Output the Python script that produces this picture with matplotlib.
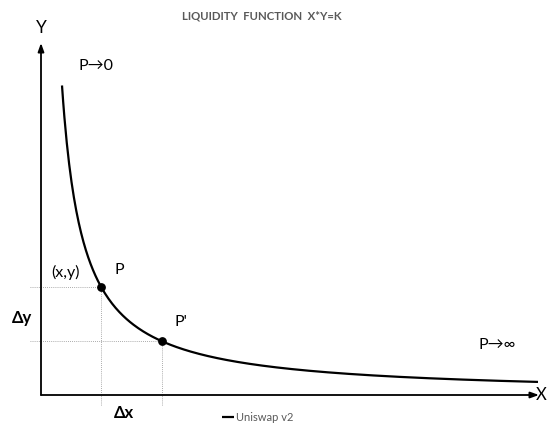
import matplotlib.pyplot as plt
import numpy as np

plt.rcParams['font.family'] = ['Lato', 'DejaVu Sans']

# liquidity curve x*y=k, drawn in axis units
k = 2.6
x_start, x_end = 0.42, 9.94
# the two marked points (x coordinates)
point_x = [1.2, 2.42]
point_names = ['P', "P'"]

x_axis_len = 9.96
y_axis_len = 7.04

fig = plt.figure(figsize=(5.48, 4.25), dpi=100)
ax = fig.add_axes([0, 0, 1, 1])
ax.set_xlim(-0.82, 10.14)
ax.set_ylim(-0.6, 7.9)
ax.axis('off')

# axes with arrows
arr = dict(arrowstyle='-|>,head_length=0.5,head_width=0.18', color='black', lw=1.3,
           shrinkA=0, shrinkB=0)
ax.annotate('', xy=(x_axis_len, 0), xytext=(0, 0), arrowprops=arr)
ax.annotate('', xy=(0, y_axis_len), xytext=(0, 0), arrowprops=arr)

xs = np.linspace(x_start, x_end, 400)
ax.plot(xs, k / xs, color='black', lw=1.6, label='Uniswap v2', solid_capstyle='butt')

py = [k / px for px in point_x]
for px, yv in zip(point_x, py):
    ax.plot([-0.22, px], [yv, yv], color='#909090', lw=0.6, ls=(0, (1, 1.5)))
    ax.plot([px, px], [-0.2, yv], color='#909090', lw=0.6, ls=(0, (1, 1.5)))
ax.scatter(point_x, py, s=28, color='black', zorder=5)

ax.text(1.46, 2.5, point_names[0], fontsize=11.5, ha='left', va='center')
ax.text(2.66, 1.45, point_names[1], fontsize=11.5, ha='left', va='center')
ax.text(0.2, 2.46, '(x,y)', fontsize=11.5, ha='left', va='center')
ax.text(-0.38, 1.54, 'Δy', fontsize=12, ha='center', va='center', fontweight='bold')
ax.text(1.66, -0.36, 'Δx', fontsize=12, ha='center', va='center', fontweight='bold')
ax.text(0.0, 7.34, 'Y', fontsize=12.5, ha='center', va='center')
ax.text(0.74, 6.58, 'P→0', fontsize=11.5, ha='left', va='center')
ax.text(8.74, 1.0, 'P→∞', fontsize=11.5, ha='left', va='center')
fig.text(0.998, 0.071, 'X', fontsize=12, ha='right', va='center')

fig.text(0.478, 0.962, 'LIQUIDITY  FUNCTION  X*Y=K', fontsize=8.2, fontweight='bold',
         color='#595959', ha='center', va='center')

leg = fig.legend(loc='center left', bbox_to_anchor=(0.405, 0.018), frameon=False, fontsize=8,
                 handlelength=1.1, handletextpad=0.15, labelcolor='#595959', borderpad=0,
                 borderaxespad=0)

fig.savefig('out.png', dpi=100)
